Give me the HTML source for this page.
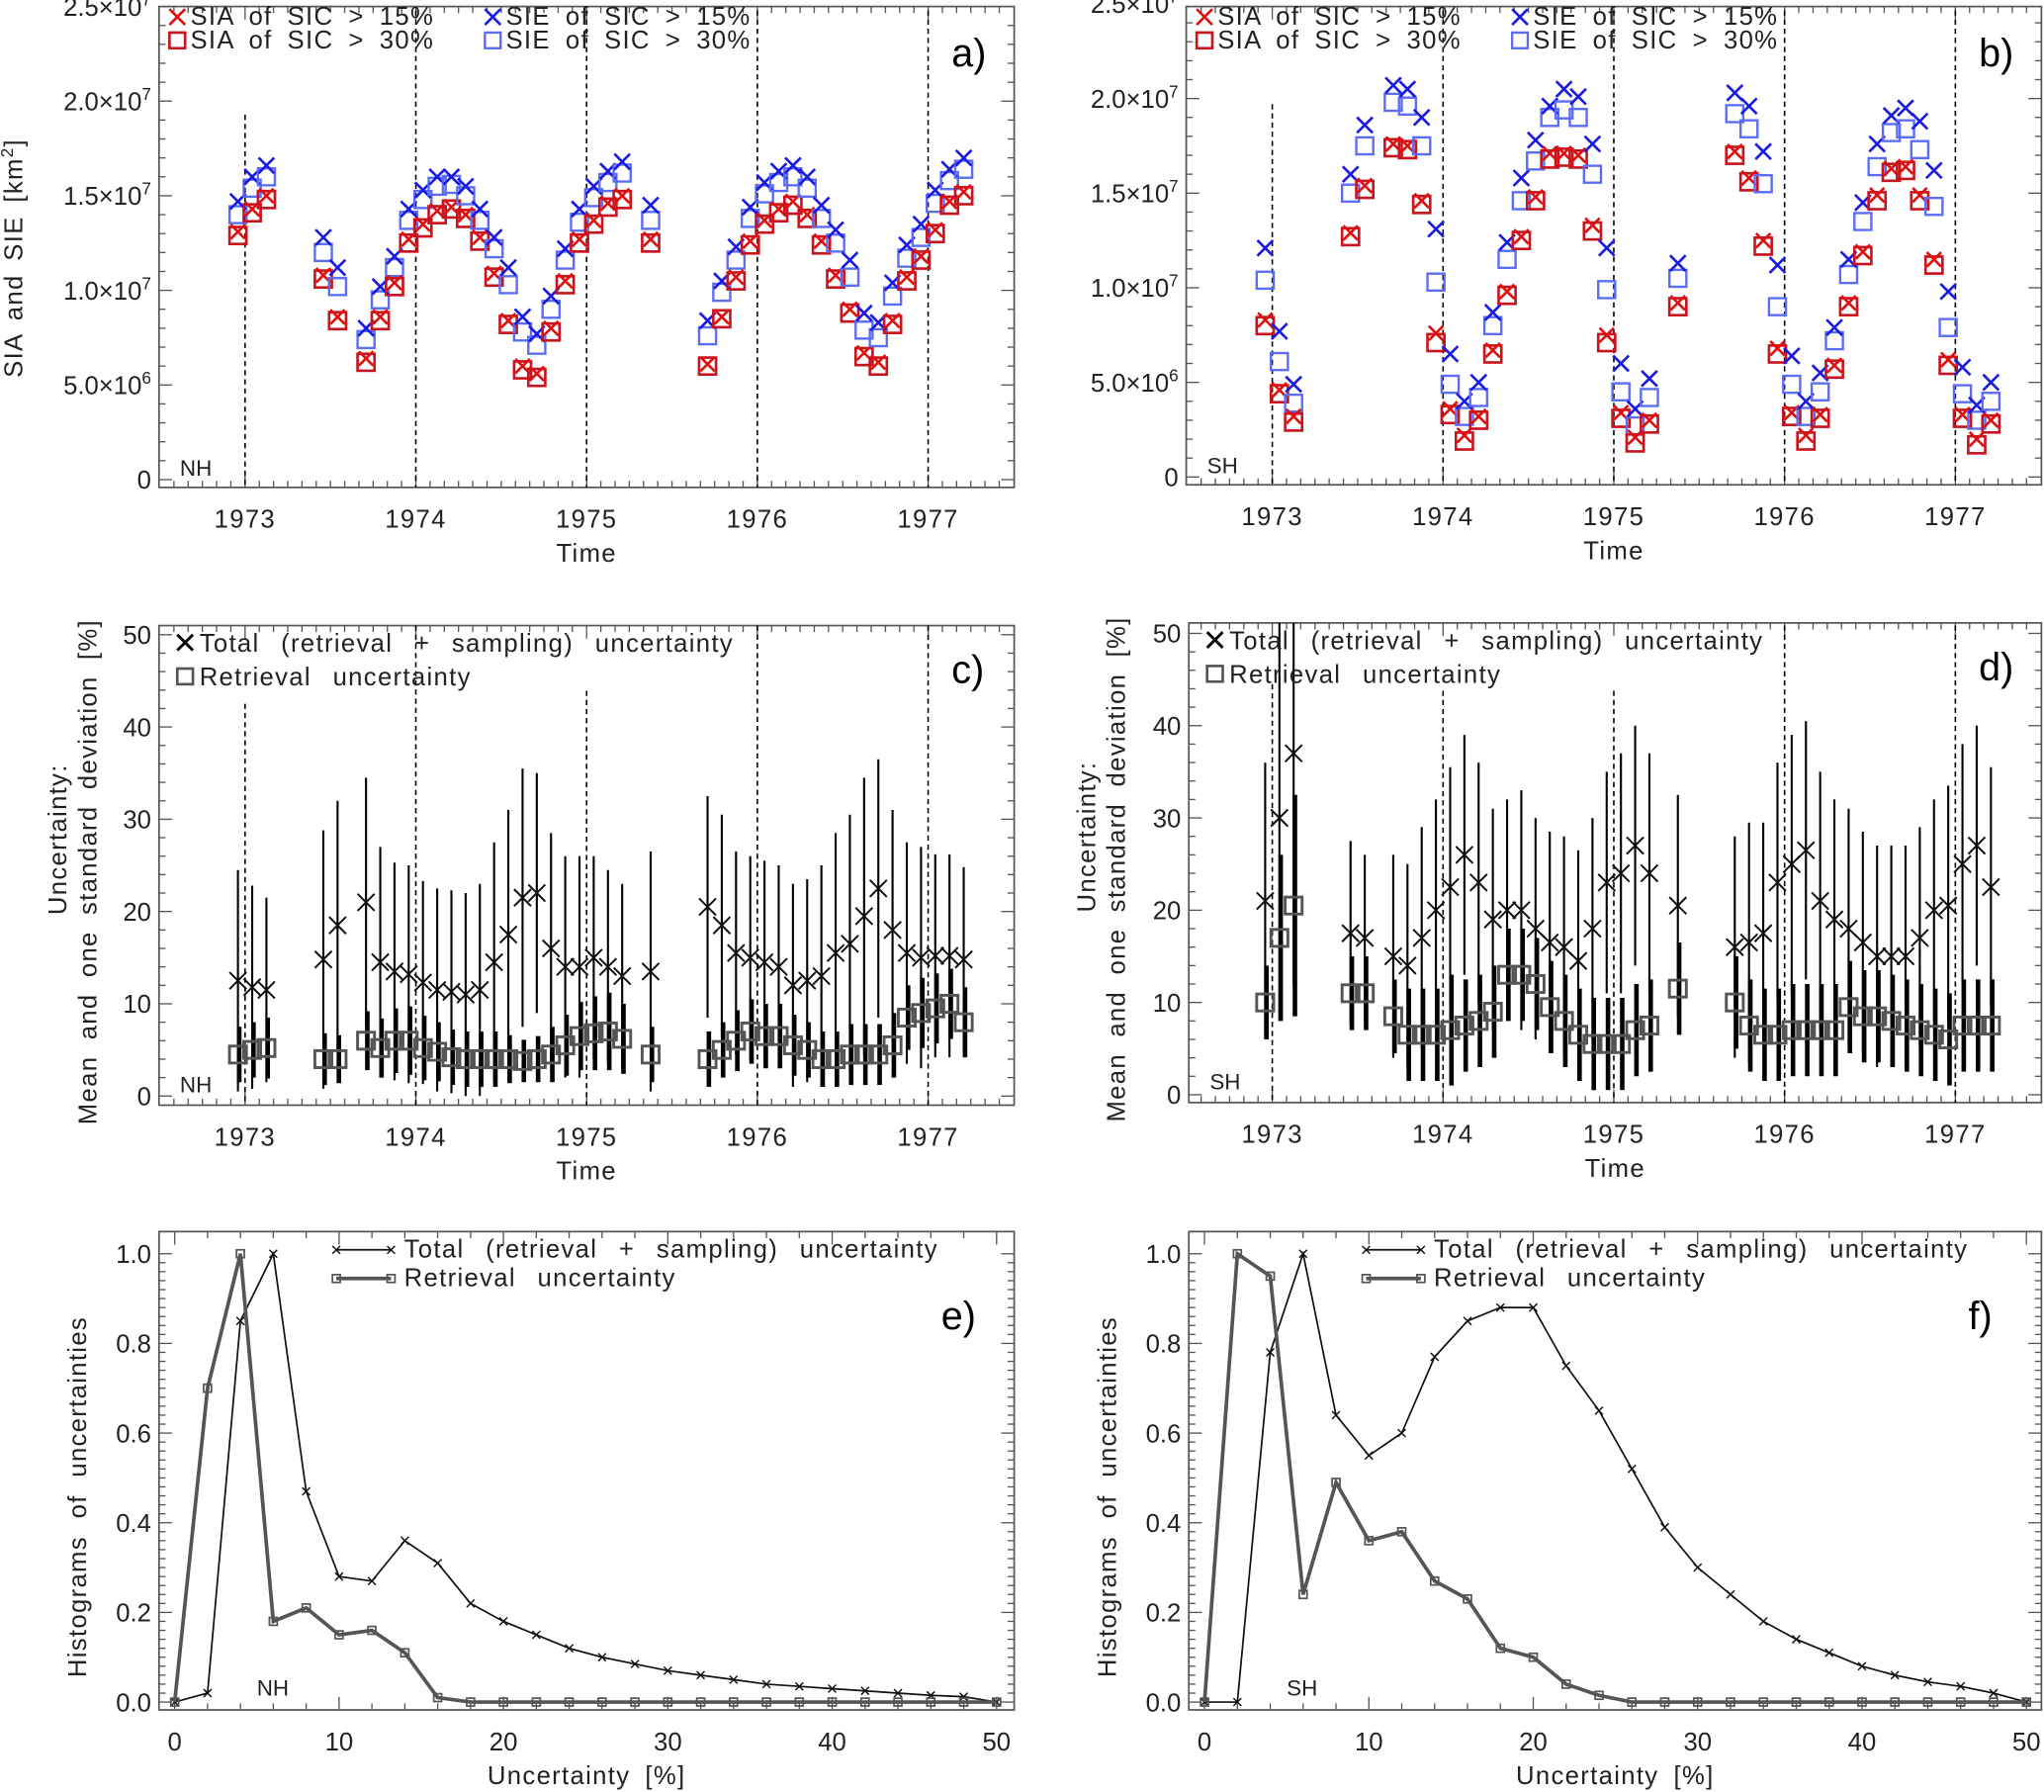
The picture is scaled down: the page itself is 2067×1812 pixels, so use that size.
<!DOCTYPE html>
<html><head><meta charset="utf-8">
<style>
html,body{margin:0;padding:0;background:#fff;}
svg{display:block;font-family:"Liberation Sans",sans-serif;}
</style></head>
<body>
<svg id="fig" width="2067" height="1812" viewBox="0 0 1568 1375" preserveAspectRatio="none" xmlns="http://www.w3.org/2000/svg"></svg>
<script>
// ---------- DATA ----------
const nhMonths = [-1,0,1,5,6,8,9,10,11,12,13,14,15,16,17,18,19,20,21,22,23,24,25,26,28,32,33,34,35,36,37,38,39,40,41,42,43,44,45,46,47,48,49,50];
const nhSIE15 = [1.47,1.6,1.66,1.28,1.12,0.8,1.02,1.18,1.43,1.53,1.6,1.6,1.55,1.43,1.28,1.12,0.86,0.77,0.97,1.22,1.43,1.55,1.63,1.68,1.45,0.84,1.05,1.23,1.44,1.57,1.63,1.66,1.6,1.45,1.32,1.16,0.88,0.83,1.04,1.24,1.35,1.53,1.64,1.7];
const nhSIE30 = [1.4,1.54,1.6,1.2,1.02,0.74,0.95,1.12,1.37,1.48,1.55,1.56,1.5,1.37,1.22,1.03,0.78,0.71,0.9,1.16,1.36,1.49,1.57,1.62,1.37,0.76,0.99,1.16,1.38,1.51,1.57,1.6,1.54,1.38,1.25,1.07,0.79,0.75,0.97,1.17,1.28,1.46,1.58,1.64];
const nhSIA15 = [1.31,1.43,1.5,1.08,0.86,0.64,0.86,1.04,1.27,1.35,1.42,1.44,1.4,1.28,1.09,0.84,0.6,0.56,0.8,1.05,1.27,1.37,1.46,1.5,1.27,0.61,0.86,1.07,1.26,1.37,1.43,1.47,1.4,1.26,1.08,0.9,0.67,0.62,0.84,1.07,1.18,1.32,1.47,1.52];
const nhSIA30 = [1.29,1.41,1.48,1.06,0.84,0.62,0.84,1.02,1.25,1.33,1.4,1.43,1.38,1.26,1.07,0.82,0.58,0.54,0.78,1.03,1.25,1.35,1.44,1.48,1.25,0.6,0.85,1.05,1.24,1.35,1.41,1.45,1.38,1.24,1.06,0.88,0.65,0.6,0.82,1.05,1.16,1.3,1.45,1.5];
const shMonths = [-1,0,1,5,6,8,9,10,11,12,13,14,15,16,17,18,19,20,21,22,23,24,25,26,28,32,33,34,35,36,37,38,39,40,41,42,43,44,45,46,47,48,49,50];
const shSIE15 = [1.21,0.77,0.49,1.6,1.86,2.07,2.05,1.9,1.31,0.65,0.4,0.5,0.87,1.24,1.58,1.78,1.96,2.05,2.01,1.76,1.21,0.6,0.36,0.52,1.13,2.03,1.96,1.72,1.12,0.64,0.4,0.55,0.79,1.15,1.45,1.76,1.91,1.95,1.88,1.62,0.98,0.58,0.38,0.5];
const shSIE30 = [1.04,0.61,0.39,1.5,1.75,1.98,1.96,1.75,1.03,0.49,0.32,0.42,0.8,1.15,1.46,1.67,1.9,1.94,1.9,1.6,0.99,0.45,0.27,0.42,1.05,1.92,1.84,1.55,0.9,0.49,0.32,0.45,0.72,1.07,1.35,1.64,1.82,1.84,1.73,1.43,0.79,0.44,0.3,0.4];
const shSIA15 = [0.83,0.46,0.32,1.29,1.54,1.76,1.75,1.46,0.76,0.36,0.22,0.32,0.67,0.98,1.27,1.48,1.71,1.71,1.7,1.33,0.75,0.34,0.21,0.3,0.92,1.72,1.58,1.25,0.68,0.34,0.22,0.33,0.59,0.92,1.19,1.49,1.63,1.64,1.49,1.15,0.62,0.33,0.2,0.3];
const shSIA30 = [0.8,0.44,0.29,1.27,1.52,1.74,1.73,1.44,0.71,0.33,0.19,0.3,0.65,0.96,1.25,1.46,1.68,1.69,1.68,1.3,0.71,0.31,0.18,0.28,0.9,1.7,1.56,1.22,0.65,0.32,0.19,0.31,0.57,0.9,1.17,1.46,1.61,1.62,1.46,1.12,0.59,0.31,0.17,0.28];
const nhTot = [12.5,11.8,11.5,14.8,18.5,21,14.5,13.5,13.2,12.3,11.5,11.3,11,11.5,14.5,17.5,21.5,22,16,14,14,15,14,13,13.5,20.5,18.5,15.5,15,14.5,14,12,12.5,13,15.5,16.5,19.5,22.5,18,15.5,15,15.2,15.2,14.8];
const nhTotSd = [12,11,10,14,13.5,13.5,12.5,11.8,11.8,11,11,11,11,11.5,13,13.5,14,13,12.5,12,12,11,10.5,10,13,12,12,11,11,11,11,11,11,12,13,14,15,14,13,12,12,11,11,10];
const nhRet = [4.5,5,5.2,4,4,6,5.2,6,6,5.2,4.8,4.2,4,4,4,4,3.8,4,4.5,5.5,6.5,6.8,7,6.2,4.5,4,5,6,7,6.5,6.5,5.5,5,4,4,4.5,4.5,4.5,5.5,8.5,9,9.5,10,8];
const nhRetSd = [3,3,3.3,2.8,2.6,3.2,3.2,3.5,3.7,3.5,3.2,3,3,3,3,2.6,2.3,2.5,3,3.3,3.7,4,4.2,3.8,3,3,3,3.3,3.5,3.5,3.5,3.3,3,3,3,3.3,3.3,3.3,3.5,3.5,3.8,3.8,3.8,3.8];
const shTot = [21,30,37,17.5,17,15,14,17,20,22.5,26,23,19,20,20,18,16.5,16,14.5,18,23,24,27,24,20.5,16,16.5,17.5,23,25,26.5,21,19,18,16.5,15,15,15,17,20,20.5,25,27,22.5];
const shTotSd = [15,22,25,10,9,11,11,12,12,13,13,13,12,12,13,12,12,12,12,12,12,13,13,13,12,12,13,12,13,14,14,14,13,13,12,12,12,12,12,12,13,13,13,13];
const shRet = [10,17,20.5,11,11,8.5,6.5,6.5,6.5,7,7.5,8,9,13,13,12,9.5,8,6.5,5.5,5.5,5.5,7,7.5,11.5,10,7.5,6.5,6.5,7,7,7,7,9.5,8.5,8.5,8,7.5,7,6.5,6,7.5,7.5,7.5];
const shRetSd = [4,9,12,4,4,4,5,5,5,6,5,5,5,5,5,5,5,5,5,5,5,5,5,5,5,5,5,5,5,5,5,5,5,5,5,5,5,5,5,5,5,5,5,5];
const histBins = [0,2,4,6,8,10,12,14,16,18,20,22,24,26,28,30,32,34,36,38,40,42,44,46,48,50];
const nhHistTot = [0,0.02,0.85,1.0,0.47,0.28,0.27,0.36,0.31,0.22,0.18,0.15,0.12,0.1,0.085,0.07,0.06,0.05,0.04,0.035,0.03,0.025,0.02,0.015,0.012,0];
const nhHistRet = [0,0.7,1.0,0.18,0.21,0.15,0.16,0.11,0.01,0,0,0,0,0,0,0,0,0,0,0,0,0,0,0,0,0];
const shHistTot = [0,0,0.78,1.0,0.64,0.55,0.6,0.77,0.85,0.88,0.88,0.75,0.65,0.52,0.39,0.3,0.24,0.18,0.14,0.11,0.08,0.06,0.045,0.035,0.02,0];
const shHistRet = [0,1.0,0.95,0.24,0.49,0.36,0.38,0.27,0.23,0.12,0.1,0.04,0.015,0,0,0,0,0,0,0,0,0,0,0,0,0];
const yearTicks = [1973,1974,1975,1976,1977];
const extentTicks = [0,0.5,1.0,1.5,2.0,2.5];
const extentLabels = ["0","5.0×10","1.0×10","1.5×10","2.0×10","2.5×10"];
const extentExp = ["","6","7","7","7","7"];
const uncTicks = [0,10,20,30,40,50];
const histXTicks = [0,10,20,30,40,50];
const histYTicks = [0,0.2,0.4,0.6,0.8,1.0];
const histYLabels = ["0.0","0.2","0.4","0.6","0.8","1.0"];

// ---------- HELPERS ----------
const NS="http://www.w3.org/2000/svg";
const svg=document.getElementById('fig');
function el(tag,attrs,parent,text){const e=document.createElementNS(NS,tag);for(const k in attrs)e.setAttribute(k,attrs[k]);if(text!==undefined)e.textContent=text;(parent||svg).appendChild(e);return e;}
function grp(name){const g=document.createElementNS(NS,'g');


svg.appendChild(g);return g;}
function cross(g,x,y,s,col,w){el('path',{d:`M${x-s},${y-s}L${x+s},${y+s}M${x-s},${y+s}L${x+s},${y-s}`,stroke:col,'stroke-width':w,fill:'none'},g);}
function sq(g,x,y,s,col,w){el('rect',{x:x-s,y:y-s,width:2*s,height:2*s,stroke:col,'stroke-width':w,fill:'none'},g);}
const FS=19.5;
const LEG={'font-size':FS,fill:'#222','word-spacing':10,'letter-spacing':1};

function frame(name,L,T,R,B){const g=grp(name);
el('rect',{x:L,y:T,width:R-L,height:B-T,fill:'none',stroke:'#555','stroke-width':1.3},g);return g;}

function timeAxis(g,x0,L,R,T,B,labY,titleY){
 const xs=t=>x0+(t-1973)*131;
 for(let m=-12;m<=60;m++){const x=xs(1973+m/12);if(x<L+1||x>R-1)continue;
  const len=(m%12===0)?10:5;
  el('line',{x1:x,y1:B,x2:x,y2:B-len,stroke:'#555','stroke-width':1},g);
  el('line',{x1:x,y1:T,x2:x,y2:T+len,stroke:'#555','stroke-width':1},g);}
 yearTicks.forEach(y=>{const t=el('text',{x:xs(y),y:labY,'font-size':FS,'text-anchor':'middle',fill:'#222','letter-spacing':1},g,String(y));
 
 });
 const tt=el('text',{x:(L+R)/2,y:titleY,'font-size':FS,'text-anchor':'middle',fill:'#222','letter-spacing':1},g,'Time');
 
 
 return xs;}

function dashed(g,x,y1,y2){el('line',{x1:x,y1:y1,x2:x,y2:y2,stroke:'#000','stroke-width':1.2,'stroke-dasharray':'4,3'},g);}

// ---------- PANELS a,b ----------
function extentPanel(name,L,R,T,B,y0,x0,months,s15,s30,a15,a30,letter,hemi,dashTops){
 const g=frame(name,L,T,R,B);
 const ys=v=>y0-v*145.2;
 for(let v=0;v<=2.5001;v+=0.1){const y=ys(v);if(y<T)continue;const maj=Math.abs(v*2-Math.round(v*2))<1e-6;const len=maj?10:5;
  el('line',{x1:L,y1:y,x2:L+len,y2:y,stroke:'#555'},g);el('line',{x1:R,y1:y,x2:R-len,y2:y,stroke:'#555'},g);}
 extentTicks.forEach((v,i)=>{const t=el('text',{x:L-6,y:ys(v)+7,'font-size':FS,'text-anchor':'end',fill:'#222'},g);
  
  
  const a=document.createElementNS(NS,'tspan');a.textContent=extentLabels[i];t.appendChild(a);
  if(extentExp[i]){const b=document.createElementNS(NS,'tspan');b.setAttribute('dy','-8');b.setAttribute('font-size','13');b.textContent=extentExp[i];t.appendChild(b);}});
 const xs=timeAxis(g,x0,L,R,T,B,B+31,B+57);
 yearTicks.forEach((y,i)=>dashed(g,xs(y),dashTops[i],B));
 const mx=m=>xs(1973+(m+0.5)/12);
 months.forEach((m,i)=>{const x=mx(m);
  sq(g,x,ys(s30[i]),6.5,'#5b6cf5',1.8);
  cross(g,x,ys(s15[i]),6,'#1a1ae6',2);
  sq(g,x,ys(a30[i]),6.5,'#c8141e',2);
  cross(g,x,ys(a15[i]),5.5,'#e01010',2);});
 const lx=L+8,ly1=T+14,ly2=T+32;
 cross(g,lx+6,ly1-6,6,'#e01010',2);sq(g,lx+6,ly2-6,6,'#c8141e',2);
 el('text',Object.assign({x:lx+16,y:ly1},LEG,{'word-spacing':5}),g,'SIA of SIC > 15%');
 el('text',Object.assign({x:lx+16,y:ly2},LEG,{'word-spacing':5}),g,'SIA of SIC > 30%');
 const bx=L+250;
 cross(g,bx+6,ly1-6,6,'#1a1ae6',2);sq(g,bx+6,ly2-6,6,'#5b6cf5',1.8);
 el('text',Object.assign({x:bx+16,y:ly1},LEG,{'word-spacing':5}),g,'SIE of SIC > 15%');
 el('text',Object.assign({x:bx+16,y:ly2},LEG,{'word-spacing':5}),g,'SIE of SIC > 30%');
 el('text',{x:R-48,y:T+46,'font-size':30,fill:'#000'},g,letter);
 el('text',{x:L+16,y:B-9,'font-size':17,fill:'#222'},g,hemi);
}
extentPanel('panel-a-nh-extent',122,778,5,374,368,188,nhMonths,nhSIE15,nhSIE30,nhSIA15,nhSIA30,'a)','NH',[88,8,8,8,8]);
extentPanel('panel-b-sh-extent',910,1566,5,372,366,976,shMonths,shSIE15,shSIE30,shSIA15,shSIA30,'b)','SH',[80,8,8,8,8]);
{const t=el('text',{x:0,y:0,'font-size':FS,'text-anchor':'middle',fill:'#222','letter-spacing':1,'word-spacing':4,transform:'translate(17,198) rotate(-90)'},svg);
 
 
 t.appendChild(document.createTextNode('SIA and SIE [km'));const s=document.createElementNS(NS,'tspan');s.setAttribute('dy','-7');s.setAttribute('font-size','13');s.textContent='2';t.appendChild(s);
 const s2=document.createElementNS(NS,'tspan');s2.setAttribute('dy','7');s2.textContent=']';t.appendChild(s2);}

// ---------- PANELS c,d ----------
function uncPanel(name,L,R,T,B,y0,x0,months,tot,totSd,ret,retSd,letter,hemi,dashTops,titleX){
 const g=frame(name,L,T,R,B);
 const ys=v=>y0-v*7.08;
 for(let v=0;v<=50;v+=2){const y=ys(v);const len=(v%10===0)?10:5;
  el('line',{x1:L,y1:y,x2:L+len,y2:y,stroke:'#555'},g);el('line',{x1:R,y1:y,x2:R-len,y2:y,stroke:'#555'},g);}
 uncTicks.forEach(v=>{const t=el('text',{x:L-6,y:ys(v)+7,'font-size':FS,'text-anchor':'end',fill:'#222'},g,String(v));
 
 });
 const xs=timeAxis(g,x0,L,R,T,B,B+31,B+57);
 yearTicks.forEach((y,i)=>dashed(g,xs(y),dashTops[i],B));
 const mx=m=>xs(1973+(m+0.5)/12);
 const cl=v=>Math.min(B,Math.max(T,v));
 months.forEach((m,i)=>{const x=mx(m);
  el('line',{x1:x,y1:cl(ys(tot[i]-totSd[i])),x2:x,y2:cl(ys(tot[i]+totSd[i])),stroke:'#000','stroke-width':1.6},g);
  el('line',{x1:x+1,y1:cl(ys(ret[i]-retSd[i])),x2:x+1,y2:cl(ys(ret[i]+retSd[i])),stroke:'#000','stroke-width':3.5},g);
  cross(g,x,ys(tot[i]),6.5,'#111',1.5);
  sq(g,x,ys(ret[i]),6.5,'#555',2.2);});
 cross(g,L+20,T+13,6,'#000',2.2);sq(g,L+20,T+39,6,'#555',2);
 el('text',Object.assign({x:L+31,y:T+20},LEG),g,'Total (retrieval + sampling) uncertainty');
 el('text',Object.assign({x:L+31,y:T+46},LEG),g,'Retrieval uncertainty');
 el('text',{x:R-48,y:T+44,'font-size':30,fill:'#000'},g,letter);
 el('text',{x:L+16,y:B-10,'font-size':17,fill:'#222'},g,hemi);
 el('text',{x:0,y:0,'font-size':FS,'text-anchor':'middle',fill:'#222','letter-spacing':1,transform:`translate(${titleX},${(T+B)/2-20}) rotate(-90)`},svg,'Uncertainty:');
 const t2=el('text',{x:0,y:0,'font-size':FS,'text-anchor':'middle',fill:'#222','letter-spacing':1,transform:`translate(${titleX+23},${(T+B)/2+5}) rotate(-90)`,'word-spacing':6},svg,'Mean and one standard deviation [%]');
 
 
}
uncPanel('panel-c-nh-uncertainty',122,778,480,848,841,188,nhMonths,nhTot,nhTotSd,nhRet,nhRetSd,'c)','NH',[540,480,530,480,480],51);
uncPanel('panel-d-sh-uncertainty',912,1566,478,846,840,976,shMonths,shTot,shTotSd,shRet,shRetSd,'d)','SH',[525,530,530,480,480],840);

// ---------- PANELS e,f ----------
function histPanel(name,L,R,T,B,x0,y0,tot,ret,letter,hemi,titleX){
 const g=frame(name,L,T,R,B);
 const xs=u=>x0+u*12.61, ys=v=>y0-v*344;
 for(let u=0;u<=50;u+=2){const x=xs(u);const len=(u%10===0)?10:5;
  el('line',{x1:x,y1:B,x2:x,y2:B-len,stroke:'#555'},g);el('line',{x1:x,y1:T,x2:x,y2:T+len,stroke:'#555'},g);}
 for(let i=0;i<=50;i++){const v=i*0.02;const y=ys(v);if(y<T)continue;const len=(i%10===0)?10:5;
  el('line',{x1:L,y1:y,x2:L+len,y2:y,stroke:'#555'},g);el('line',{x1:R,y1:y,x2:R-len,y2:y,stroke:'#555'},g);}
 histXTicks.forEach(u=>{const t=el('text',{x:xs(u),y:B+31,'font-size':FS,'text-anchor':'middle',fill:'#222'},g,String(u));
 
 });
 histYTicks.forEach((v,i)=>{const t=el('text',{x:L-6,y:ys(v)+7,'font-size':FS,'text-anchor':'end',fill:'#222'},g,histYLabels[i]);
 
 });
 el('text',{x:(L+R)/2,y:B+57,'font-size':FS,'text-anchor':'middle',fill:'#222','word-spacing':5,'letter-spacing':1},g,'Uncertainty [%]');
 const pt=arr=>histBins.map((b,i)=>`${xs(b)},${ys(arr[i])}`).join(' ');
 el('polyline',{points:pt(tot),fill:'none',stroke:'#111','stroke-width':1.3},g);
 histBins.forEach((b,i)=>cross(g,xs(b),ys(tot[i]),3,'#111',1.1));
 el('polyline',{points:pt(ret),fill:'none',stroke:'#555','stroke-width':2.8},g);
 histBins.forEach((b,i)=>sq(g,xs(b),ys(ret[i]),3,'#555',1.3));
 const lx=L+136;
 el('line',{x1:lx,y1:T+14,x2:lx+42,y2:T+14,stroke:'#111','stroke-width':1.3},g);
 cross(g,lx,T+14,3,'#111',1.1);cross(g,lx+42,T+14,3,'#111',1.1);
 el('line',{x1:lx,y1:T+36,x2:lx+42,y2:T+36,stroke:'#555','stroke-width':2.8},g);
 sq(g,lx,T+36,3,'#555',1.3);sq(g,lx+42,T+36,3,'#555',1.3);
 el('text',Object.assign({x:lx+52,y:T+20},LEG),g,'Total (retrieval + sampling) uncertainty');
 el('text',Object.assign({x:lx+52,y:T+42},LEG),g,'Retrieval uncertainty');
 el('text',{x:R-56,y:T+75,'font-size':30,fill:'#000'},g,letter);
 el('text',{x:xs(5),y:ys(0)-5,'font-size':17,fill:'#222'},g,hemi);
 const t=el('text',{x:0,y:0,'font-size':FS,'text-anchor':'middle',fill:'#222',transform:`translate(${titleX},${(T+B)/2+20}) rotate(-90)`,'word-spacing':7,'letter-spacing':1},svg,'Histograms of uncertainties');
 
 
}
histPanel('panel-e-nh-histogram',122,778,945,1312,134,1306,nhHistTot,nhHistRet,'e)','NH',66);
histPanel('panel-f-sh-histogram',912,1566,945,1312,924,1306,shHistTot,shHistRet,'f)','SH',856);
</script>
</body></html>
